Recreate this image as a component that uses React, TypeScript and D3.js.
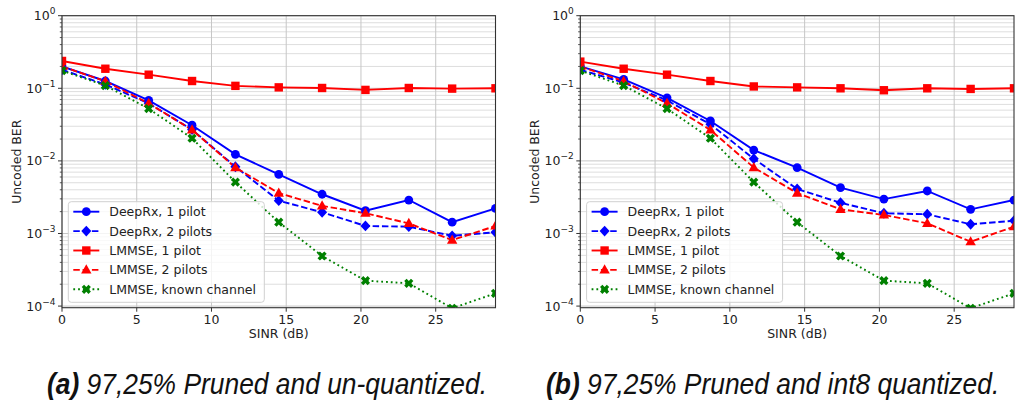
import React from 'react';
import * as d3 from 'd3';

// ---------- data ----------
const sinrDb = [0, 2.9, 5.8, 8.7, 11.6, 14.5, 17.4, 20.3, 23.2, 26.1, 29.0];
const xTicks = [0, 5, 10, 15, 20, 25];
const yTickExps = [0, -1, -2, -3, -4];

const seriesNames = [
  'DeepRx, 1 pilot',
  'DeepRx, 2 pilots',
  'LMMSE, 1 pilot',
  'LMMSE, 2 pilots',
  'LMMSE, known channel',
];

// panel (a): pruned, un-quantized
const deepRx1A = [0.2, 0.126, 0.068, 0.031, 0.0123, 0.0065, 0.00347, 0.00206, 0.00289, 0.00143, 0.00222];
const deepRx2A = [0.18, 0.113, 0.062, 0.027, 0.0083, 0.00283, 0.00196, 0.00127, 0.00124, 0.00093, 0.00104];
const lmmse1A = [0.238, 0.186, 0.154, 0.126, 0.108, 0.103, 0.101, 0.095, 0.101, 0.099, 0.1];
const lmmse2A = [0.2, 0.125, 0.062, 0.0267, 0.0081, 0.0036, 0.0024, 0.0019, 0.00138, 0.00081, 0.00127];
const knownA = [0.175, 0.109, 0.0524, 0.0205, 0.0051, 0.00143, 0.00049, 0.000224, 0.000206, 0.0000933, 0.00015];

// panel (b): pruned, int8 quantized
const deepRx1B = [0.2, 0.133, 0.074, 0.0355, 0.0141, 0.0081, 0.00427, 0.00298, 0.00385, 0.00215, 0.00289];
const deepRx2B = [0.18, 0.12, 0.068, 0.0319, 0.0107, 0.0041, 0.00265, 0.0019, 0.00184, 0.00134, 0.0015];
const lmmse1B = [0.233, 0.186, 0.154, 0.126, 0.106, 0.103, 0.1, 0.094, 0.1, 0.098, 0.1];
const lmmse2B = [0.2, 0.125, 0.062, 0.0267, 0.0081, 0.0036, 0.00215, 0.0018, 0.00138, 0.00077, 0.00124];
const knownB = [0.175, 0.109, 0.0524, 0.0205, 0.0051, 0.00143, 0.00049, 0.000224, 0.000206, 0.0000933, 0.00015];

const captionTagA = '(a)';
const captionTextA = ' 97,25% Pruned and un-quantized.';
const captionTagB = '(b)';
const captionTextB = ' 97,25% Pruned and int8 quantized.';

// ---------- styles ----------
type MarkerKind = 'circle' | 'diamond' | 'square' | 'triangle' | 'x';
const seriesStyles: { color: string; dash: string | undefined; marker: MarkerKind }[] = [
  { color: '#0000ff', dash: undefined, marker: 'circle' },
  { color: '#0000ff', dash: '6.5,2.8', marker: 'diamond' },
  { color: '#ff0000', dash: undefined, marker: 'square' },
  { color: '#ff0000', dash: '6.5,2.8', marker: 'triangle' },
  { color: '#008000', dash: '1.8,3', marker: 'x' },
];

const FONT = "'DejaVu Sans', 'Liberation Sans', sans-serif";

function xPath(): string {
  const e = 4.8, a = 1.7;
  const pts = [
    [a, e], [a, a], [e, a], [e, -a], [a, -a], [a, -e],
    [-a, -e], [-a, -a], [-e, -a], [-e, a], [-a, a], [-a, e],
  ];
  const c = Math.cos(Math.PI / 4), s = Math.sin(Math.PI / 4);
  return 'M' + pts.map(([x, y]) => `${(x * c - y * s).toFixed(2)},${(x * s + y * c).toFixed(2)}`).join('L') + 'Z';
}
const X_PATH = xPath();

function Marker({ kind, x, y, color }: { kind: MarkerKind; x: number; y: number; color: string }) {
  switch (kind) {
    case 'circle':
      return <circle cx={x} cy={y} r={4.4} fill={color} />;
    case 'diamond':
      return <path d={`M${x},${y - 5.4}L${x + 5},${y}L${x},${y + 5.4}L${x - 5},${y}Z`} fill={color} />;
    case 'square':
      return <rect x={x - 4.2} y={y - 4.2} width={8.4} height={8.4} fill={color} />;
    case 'triangle':
      return <path d={`M${x},${y - 5.6}L${x + 5.2},${y + 3.6}L${x - 5.2},${y + 3.6}Z`} fill={color} />;
    case 'x':
      return <path d={X_PATH} transform={`translate(${x},${y})`} fill={color} />;
  }
}

type PanelProps = {
  id: string;
  x0: number;
  x1: number;
  series: number[][];
  tag: string;
  caption: string;
  captionX: number;
};

const Y0 = 15.7;
const Y1 = 307.7;

function Panel({ id, x0, x1, series, tag, caption, captionX }: PanelProps) {
  const xScale = d3.scaleLinear().domain([0, 29]).range([x0, x1]);
  const yScale = d3.scaleLog().domain([9.5e-5, 1]).range([Y1, Y0]);

  const line = d3
    .line<number>()
    .x((_, i) => xScale(sinrDb[i]))
    .y((d) => yScale(d));

  const minorVals: number[] = [];
  for (let e = -5; e < 0; e++) {
    for (let m = 2; m <= 9; m++) {
      const v = m * Math.pow(10, e);
      if (v >= 9.5e-5 && v <= 1) minorVals.push(v);
    }
  }

  const cx = (x0 + x1) / 2;
  const cy = (Y0 + Y1) / 2;
  const legX = x0 + 6.3;
  const legY = 201.7;
  const rowH = 19.4;

  return (
    <g>
      <defs>
        <clipPath id={`clip-${id}`}>
          <rect x={x0} y={Y0} width={x1 - x0} height={Y1 - Y0} />
        </clipPath>
      </defs>
      <rect x={x0} y={Y0} width={x1 - x0} height={Y1 - Y0} fill="#ffffff" />
      {/* minor grid */}
      {minorVals.map((v, i) => (
        <line key={`mn${i}`} x1={x0} x2={x1} y1={yScale(v)} y2={yScale(v)} stroke="#dedede" strokeWidth={1} />
      ))}
      {/* major grid */}
      {yTickExps.map((e) => (
        <line key={`mj${e}`} x1={x0} x2={x1} y1={yScale(Math.pow(10, e))} y2={yScale(Math.pow(10, e))} stroke="#c6c6c6" strokeWidth={1} />
      ))}
      {xTicks.map((t) => (
        <line key={`vx${t}`} x1={xScale(t)} x2={xScale(t)} y1={Y0} y2={Y1} stroke="#c6c6c6" strokeWidth={1} />
      ))}

      {/* series */}
      <g clipPath={`url(#clip-${id})`}>
        {series.map((vals, si) => (
          <path
            key={`l${si}`}
            d={line(vals) || ''}
            fill="none"
            stroke={seriesStyles[si].color}
            strokeWidth={1.9}
            strokeDasharray={seriesStyles[si].dash}
          />
        ))}
        {series.map((vals, si) =>
          vals.map((v, i) => (
            <Marker key={`m${si}-${i}`} kind={seriesStyles[si].marker} x={xScale(sinrDb[i])} y={yScale(v)} color={seriesStyles[si].color} />
          ))
        )}
      </g>

      {/* spines */}
      <rect x={x0} y={Y0} width={x1 - x0} height={Y1 - Y0} fill="none" stroke="#333333" strokeWidth={1.1} />

      {/* y ticks */}
      {minorVals.map((v, i) => (
        <line key={`mt${i}`} x1={x0 - 2.2} x2={x0} y1={yScale(v)} y2={yScale(v)} stroke="#333333" strokeWidth={0.8} />
      ))}
      {yTickExps.map((e) => {
        const y = yScale(Math.pow(10, e));
        return (
          <g key={`yt${e}`}>
            <line x1={x0 - 4} x2={x0} y1={y} y2={y} stroke="#333333" strokeWidth={1} />
            <text x={x0 - 6.5} y={y + 4.6} textAnchor="end" fontFamily={FONT} fontSize={12.5} fill="#222">
              10
              <tspan dy={-6} fontSize={9}>
                {e === 0 ? '0' : `\u2212${-e}`}
              </tspan>
            </text>
          </g>
        );
      })}

      {/* x ticks */}
      {xTicks.map((t) => (
        <g key={`xt${t}`}>
          <line x1={xScale(t)} x2={xScale(t)} y1={Y1} y2={Y1 + 4} stroke="#333333" strokeWidth={1} />
          <text x={xScale(t)} y={Y1 + 16.5} textAnchor="middle" fontFamily={FONT} fontSize={12.5} fill="#222">
            {t}
          </text>
        </g>
      ))}

      {/* axis labels */}
      <text x={cx} y={338} textAnchor="middle" fontFamily={FONT} fontSize={12.5} fill="#222">
        SINR (dB)
      </text>
      <text
        transform={`translate(${x0 - 41.3},${cy}) rotate(-90)`}
        textAnchor="middle"
        fontFamily={FONT}
        fontSize={12.5}
        fill="#222"
      >
        Uncoded BER
      </text>

      {/* legend */}
      <rect x={legX} y={legY} width={196} height={100.6} rx={3} fill="#ffffff" fillOpacity={0.8} stroke="#d0d0d0" strokeWidth={1} />
      {seriesNames.map((name, si) => {
        const ry = legY + 10 + si * rowH;
        const st = seriesStyles[si];
        return (
          <g key={`lg${si}`}>
            <line x1={legX + 5} x2={legX + 31} y1={ry} y2={ry} stroke={st.color} strokeWidth={1.9} strokeDasharray={st.dash} />
            <Marker kind={st.marker} x={legX + 18} y={ry} color={st.color} />
            <text x={legX + 41} y={ry + 4.5} fontFamily={FONT} fontSize={12.5} fill="#222">
              {name}
            </text>
          </g>
        );
      })}

      {/* caption */}
      <g transform={`translate(${captionX},394) scale(0.91,1)`}>
        <text
          x={0}
          y={0}
          fontFamily="'Liberation Sans Narrow', 'Liberation Sans', Arial, sans-serif"
          fontStyle="italic"
          fontSize={29}
          fill="#111"
        >
          <tspan fontWeight="bold">{tag}</tspan>
          <tspan>{caption}</tspan>
        </text>
      </g>
    </g>
  );
}

export default function App() {
  return (
    <svg
      width={1019}
      height={404}
      viewBox="0 0 1019 404"
      style={{ position: 'absolute', left: 0, top: 0, background: '#ffffff' }}
    >
      <rect width={1019} height={404} fill="#ffffff" />
      <Panel
        id="a"
        x0={62}
        x1={495.5}
        series={[deepRx1A, deepRx2A, lmmse1A, lmmse2A, knownA]}
        tag={captionTagA}
        caption={captionTextA}
        captionX={47}
      />
      <Panel
        id="b"
        x0={580.3}
        x1={1014}
        series={[deepRx1B, deepRx2B, lmmse1B, lmmse2B, knownB]}
        tag={captionTagB}
        caption={captionTextB}
        captionX={546}
      />
    </svg>
  );
}
